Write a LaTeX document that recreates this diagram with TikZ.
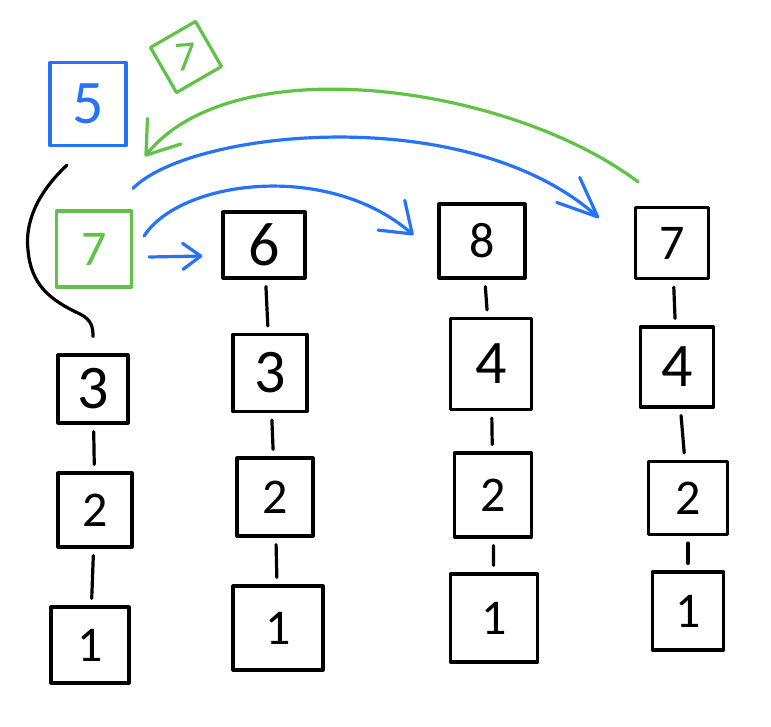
\documentclass[tikz,border=0pt]{standalone}
\usepackage{fontspec}
\setmainfont{Carlito}
\usetikzlibrary{arrows.meta,bending,calc}
\definecolor{penblue}{RGB}{38,115,250}
\definecolor{pengreen}{RGB}{95,195,70}
\begin{document}
\begin{tikzpicture}[x=1pt,y=-1pt,
  box/.style={draw=black,line width=3.2pt,inner sep=0pt,line join=round},
  bluebox/.style={box,draw=penblue,text=penblue},
  greenbox/.style={box,draw=pengreen,text=pengreen},
  big/.style={font=\fontsize{62}{64}\selectfont},
  small/.style={font=\fontsize{50}{52}\selectfont},
  link/.style={line width=3.2pt,line cap=round,shorten <=7pt,shorten >=7pt},
  curvelink/.style={line width=3.2pt,line cap=round},
  bluearrow/.style={draw=penblue,line width=3.2pt,line cap=round,line join=round},
  greenarrow/.style={draw=pengreen,line width=3.2pt,line cap=round,line join=round},
]
\useasboundingbox (0,0) rectangle (771,726);
\fill[white] (0,0) rectangle (771,726);

% column 1
\node[bluebox,big,minimum width=76pt,minimum height=83pt] (n5) at (88,104) {5};
\node[greenbox,minimum width=52pt,minimum height=52pt,rotate=30] (gt7) at (186,57) {\rotatebox{-25}{\fontsize{42}{44}\selectfont 7}};
\node[greenbox,small,minimum width=75pt,minimum height=76pt] (g7) at (94,249) {7};
\node[box,big,minimum width=70pt,minimum height=68pt] (c1n3) at (93,389) {3};
\node[box,small,minimum width=74pt,minimum height=74pt] (c1n2) at (95,510) {2};
\node[box,small,minimum width=78pt,minimum height=76pt] (c1n1) at (90,645) {1};

% column 2
\node[box,big,minimum width=82pt,minimum height=66pt] (c2n6) at (264,245) {6};
\node[box,big,minimum width=74pt,minimum height=77pt] (c2n3) at (270,373) {3};
\node[box,small,minimum width=76pt,minimum height=78pt] (c2n2) at (275,497) {2};
\node[box,small,minimum width=90pt,minimum height=84pt] (c2n1) at (278,628) {1};

% column 3
\node[box,small,minimum width=86pt,minimum height=74pt] (c3n8) at (482,241) {8};
\node[box,big,minimum width=81pt,minimum height=91pt] (c3n4) at (491,364) {4};
\node[box,small,minimum width=77pt,minimum height=84pt] (c3n2) at (493,495) {2};
\node[box,small,minimum width=87pt,minimum height=88pt] (c3n1) at (494,618) {1};

% column 4
\node[box,small,minimum width=73pt,minimum height=71pt] (c4n7) at (672,243) {7};
\node[box,big,minimum width=73pt,minimum height=80pt] (c4n4) at (677,367) {4};
\node[box,small,minimum width=79pt,minimum height=73pt] (c4n2) at (688,498) {2};
\node[box,small,minimum width=71pt,minimum height=78pt] (c4n1) at (688,611) {1};

% vertical links
\draw[link] (c1n3) -- (c1n2);
\draw[link] (c1n2) -- (c1n1);
\draw[link] (c2n6) -- (c2n3);
\draw[link] (c2n3) -- (c2n2);
\draw[link] (c2n2) -- (c2n1);
\draw[link] (c3n8) -- (c3n4);
\draw[link] (c3n4) -- (c3n2);
\draw[link] (c3n2) -- (c3n1);
\draw[link] (c4n7) -- (c4n4);
\draw[link] (c4n4) -- (c4n2);
\draw[link] (c4n2) -- (c4n1);

% black curve from 5 to 3
\draw[curvelink] ($(n5.south)+(-21,18)$) .. controls (35,195) and (25,225) .. (28,250)
  .. controls (31,285) and (50,300) .. (80,314)
  .. controls (92,320) and (93,328) .. ($(c1n3.north)+(0,-17)$);

% blue arrows
\draw[bluearrow,-{Straight Barb[round,length=18pt,width=26pt]}]
  ($(g7.east)+(16,8)$) -- ($(c2n6.west)+(-19,11)$);
\draw[bluearrow,-{Straight Barb[round,length=28pt,width=40pt,flex]}]
  ($(g7.east)+(11,-13)$) .. controls (180,180) and (330,160) .. ($(c3n8.west)+(-24,-6)$);
\draw[bluearrow,-{Straight Barb[round,length=40pt,width=34pt,flex]}]
  ($(g7.north)+(39,-21)$) .. controls (190,130) and (470,100) .. ($(c4n7.west)+(-35,-25)$);

% green arrow
\draw[greenarrow,-{Straight Barb[round,length=30pt,width=42pt,flex]}]
  ($(c4n7.north)+(-34,-24)$) .. controls (510,85) and (230,45) .. ($(g7.north)+(51,-53)$);
\end{tikzpicture}
\end{document}
